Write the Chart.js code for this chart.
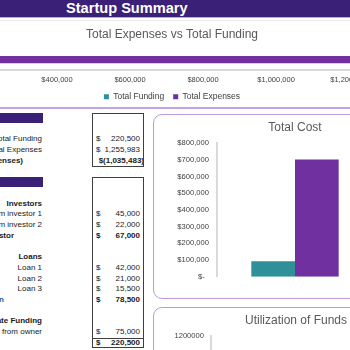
<!DOCTYPE html>
<html>
<head>
<meta charset="utf-8">
<script src="https://cdn.jsdelivr.net/npm/chart.js@4.4.1/dist/chart.umd.min.js"></script>
<style>
  html, body { margin: 0; padding: 0; }
  body {
    width: 350px; height: 350px; overflow: hidden; position: relative;
    background: #fff; font-family: "Liberation Sans", Arial, sans-serif;
  }
  #header { position: absolute; left: 0; top: 0; width: 350px; height: 17px; background: #3b2078; }
  #header span {
    position: absolute; left: 66px; top: 0; color: #fff; font-weight: bold;
    font-size: 14.6px; line-height: 17px;
  }
  .hline { position: absolute; left: 0; width: 350px; }
  .card {
    position: absolute; box-sizing: border-box; background: #fff;
    border: 1.5px solid #b99bd9; border-radius: 9px;
  }
  .box { position: absolute; box-sizing: border-box; border: 1px solid #3f3f3f; }
  .cell { position: absolute; font-size: 8px; line-height: 10.7px; color: #1a1a1a; white-space: nowrap; }
  .band { position: absolute; left: 0; width: 43px; background: #3b2078; }
  canvas { position: absolute; }
</style>
</head>
<body>
<div id="header"><span>Startup Summary</span></div>
<div class="hline" style="top:17px;height:1px;background:#c7a9e4"></div>
<div class="hline" style="top:20px;height:1px;background:#ebebeb"></div>
<div class="hline" style="top:107px;height:1.5px;background:#c3a3e0"></div>

<canvas id="fundChart" width="643" height="90" style="left:-170px;top:21px"></canvas>

<div id="table"></div>

<div class="card" style="left:153px;top:114px;width:300px;height:185px"></div>
<canvas id="costChart" width="240" height="185" style="left:153px;top:114px"></canvas>

<div class="card" style="left:153px;top:307px;width:300px;height:220px"></div>
<canvas id="useChart" width="240" height="230" style="left:153px;top:307px"></canvas>

<script>
// chart data
const totalFunding = 220500;
const totalExpenses = 1255983;
const fundTicks = [0, 200000, 400000, 600000, 800000, 1000000, 1200000, 1400000];

const costLabels = ['Total Cost'];
const startupCost = [92000];
const operatingCost = [704000];

const useLabels = ['Investors', 'Loans', 'Owner'];
const useValues = [67000, 78500, 75000];

const TEAL = '#2f9099';
const PURPLE = '#7030a0';

// left hand table (rows on a 10.7px grid)
const ROW_TOP = 113;
const ROW_H = 10.7;
const tableRows = [
  { band: true },
  {},
  { label: 'Total Funding', value: '220,500' },
  { label: 'Total Expenses', value: '1,255,983' },
  { label: 'Net (Funding - Expenses)', end: 23, neg: '$(1,035,483)', bold: true },
  {},
  { band: true },
  {},
  { label: 'Investors', bold: true },
  { label: 'Funds from investor 1', value: '45,000' },
  { label: 'Funds from investor 2', value: '22,000' },
  { label: 'Total Investor', end: 14, value: '67,000', bold: true },
  {},
  { label: 'Loans', bold: true },
  { label: 'Loan 1', value: '42,000' },
  { label: 'Loan 2', value: '21,000' },
  { label: 'Loan 3', value: '15,500' },
  { label: 'Total Loan', end: 4, value: '78,500', bold: true, color: '#2f5597' },
  {},
  { label: 'Private Funding', bold: true },
  { label: 'Funding from owner', value: '75,000' },
  { value: '220,500', bold: true, topLine: true },
];

function buildTable() {
  const root = document.getElementById('table');
  let html = '';
  tableRows.forEach((r, i) => {
    const top = ROW_TOP + i * ROW_H;
    const w = r.bold ? 'bold' : 'normal';
    if (r.band) {
      html += `<div class="band" style="top:${top}px;height:${ROW_H - 0.4}px"></div>`;
      return;
    }
    if (r.label) {
      const end = r.end !== undefined ? r.end : 42;
      html += `<div class="cell" style="top:${top}px;left:${end - 200}px;width:200px;text-align:right;font-weight:${w};color:${r.color || '#1a1a1a'}">${r.label}</div>`;
    }
    if (r.value) {
      html += `<div class="cell" style="top:${top}px;left:96px;font-weight:${w}">$</div>`;
      html += `<div class="cell" style="top:${top}px;left:90px;width:50px;text-align:right;font-weight:${w}">${r.value}</div>`;
    }
    if (r.neg) {
      html += `<div class="cell" style="top:${top}px;left:84px;width:60px;text-align:right;font-weight:${w}">${r.neg}</div>`;
    }
    if (r.topLine) {
      html += `<div style="position:absolute;left:92px;width:52px;top:${top}px;height:1px;background:#3f3f3f"></div>`;
    }
  });
  // outlined value boxes
  html += `<div class="box" style="left:92px;top:${ROW_TOP}px;width:52px;height:${5 * ROW_H}px"></div>`;
  html += `<div class="box" style="left:92px;top:${ROW_TOP + 6 * ROW_H}px;width:52px;height:${16 * ROW_H}px"></div>`;
  root.innerHTML = html;
}
buildTable();

Chart.defaults.font.family = '"Liberation Sans", Arial, sans-serif';
Chart.defaults.animation = false;

const money = v => '$' + Number(v).toLocaleString('en-US');

const titleOpts = (text) => ({
  display: true,
  text,
  color: '#595959',
  font: { size: 12, weight: 'normal' },
  padding: { top: 6, bottom: 9 },
});

// Total Expenses vs Total Funding (only part of the wide bar is on screen)
new Chart(document.getElementById('fundChart'), {
  type: 'bar',
  data: {
    labels: [''],
    datasets: [
      { label: 'Total Expenses', data: [totalExpenses], backgroundColor: PURPLE },
      { label: 'Total Funding', data: [totalFunding], backgroundColor: TEAL },
    ],
  },
  options: {
    indexAxis: 'y',
    responsive: false,
    layout: { padding: { left: 81, right: 40, top: 0, bottom: 0 } },
    datasets: { bar: { categoryPercentage: 1, barPercentage: 1 } },
    scales: {
      x: {
        min: 0,
        max: 1430000,
        // keep the ticks on round $200,000 steps even though max is not one
        afterBuildTicks: s => { s.ticks = fundTicks.map(v => ({ value: v })); },
        afterFit: s => { s.height = 13.5; },
        ticks: {
          autoSkip: false, maxRotation: 0, padding: 5,
          color: '#404040', font: { size: 7.5 }, callback: v => money(v),
        },
        grid: { display: false, drawTicks: false },
        border: { display: true, color: '#d9d9d9', width: 2 },
      },
      y: { display: false },
    },
    plugins: {
      title: { ...titleOpts('Total Expenses vs Total Funding'), padding: { top: 6, bottom: 14.6 } },
      legend: {
        position: 'bottom',
        reverse: true,
        labels: { boxWidth: 5, boxHeight: 5, color: '#404040', font: { size: 8.5 }, padding: 9 },
      },
      tooltip: { enabled: false },
    },
  },
});

// Total Cost
new Chart(document.getElementById('costChart'), {
  type: 'bar',
  data: {
    labels: costLabels,
    datasets: [
      { label: 'Start-up Costs', data: startupCost, backgroundColor: TEAL },
      { label: 'Operating Costs', data: operatingCost, backgroundColor: PURPLE },
    ],
  },
  options: {
    responsive: false,
    layout: { padding: { left: 0, right: 20, top: 0, bottom: 22.3 } },
    datasets: { bar: { categoryPercentage: 0.56, barPercentage: 1 } },
    scales: {
      x: { display: false },
      y: {
        min: 0,
        max: 800000,
        afterFit: s => { s.width = 64; },
        ticks: {
          stepSize: 100000, padding: 8, color: '#404040', font: { size: 7.6 },
          callback: v => (v === 0 ? '$-  ' : money(v)),
        },
        grid: { display: false, drawTicks: false },
        border: { display: true, color: '#d9d9d9', width: 2 },
      },
    },
    plugins: {
      title: { ...titleOpts('Total Cost'), fullSize: false },
      legend: { display: false },
      tooltip: { enabled: false },
    },
  },
});

// Utilization of Funds (only the top edge shows)
new Chart(document.getElementById('useChart'), {
  type: 'bar',
  data: {
    labels: useLabels,
    datasets: [{ label: 'Funds', data: useValues, backgroundColor: PURPLE }],
  },
  options: {
    responsive: false,
    layout: { padding: { left: 0, right: 12, top: 0, bottom: 20 } },
    scales: {
      x: { display: false },
      y: {
        min: 0,
        max: 1200000,
        afterFit: s => { s.width = 58; },
        ticks: {
          stepSize: 200000, padding: 7, color: '#404040', font: { size: 7.6 },
          callback: v => String(v),
        },
        grid: { display: false, drawTicks: false },
        border: { display: true, color: '#d9d9d9', width: 2 },
      },
    },
    plugins: {
      title: { ...titleOpts('Utilization of Funds'), fullSize: false },
      legend: { display: false },
      tooltip: { enabled: false },
    },
  },
});
</script>
</body>
</html>
